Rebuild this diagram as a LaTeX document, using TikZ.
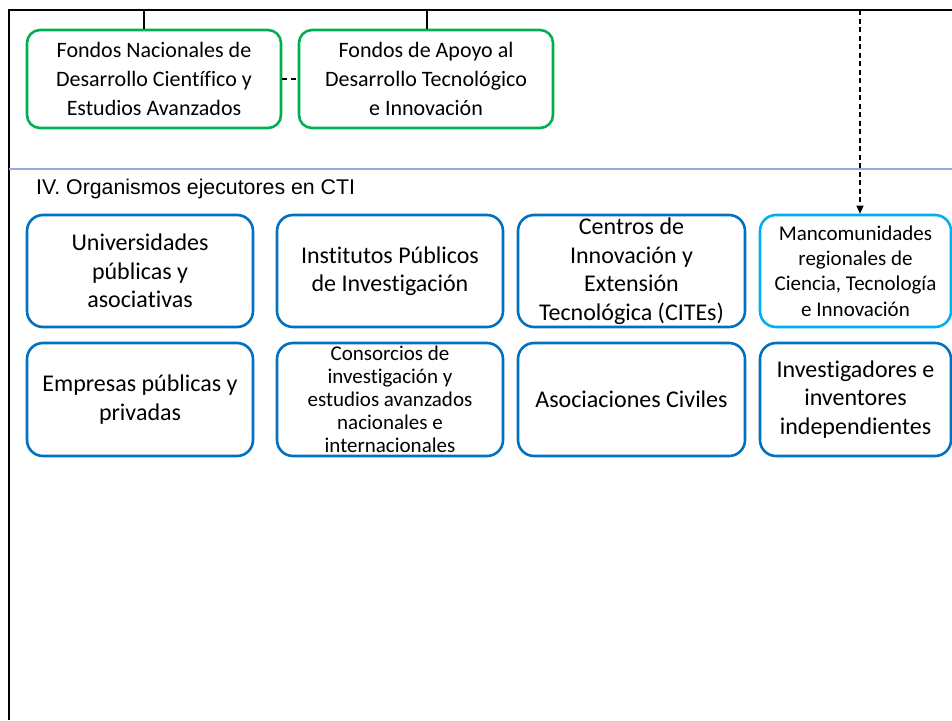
\documentclass[tikz,border=0pt]{standalone}
\usepackage{fontspec}
\setmainfont{Carlito}[RawFeature={-liga}]
\newfontfamily\arialfont{Liberation Sans}
\usetikzlibrary{arrows.meta}

\definecolor{verdeFondo}{RGB}{0,176,80}
\definecolor{azulOrg}{RGB}{0,112,192}
\definecolor{celesteOrg}{RGB}{0,176,240}
\definecolor{lineaSec}{RGB}{143,170,220}

\tikzset{
  fondo/.style={draw=verdeFondo, line width=2.6pt, rounded corners=13pt,
    minimum width=254pt, minimum height=98pt, inner sep=0pt, align=center,
    font=\fontsize{22}{29}\selectfont},
  organismo/.style={draw=azulOrg, line width=2.6pt, rounded corners=16pt,
    minimum width=226pt, minimum height=112pt, inner sep=0pt, align=center,
    font=\fontsize{24}{28.5}\selectfont},
  enlace/.style={line width=1.4pt},
  punteado/.style={line width=1.2pt, dash pattern=on 5pt off 3.5pt}
}

\begin{document}
\begin{tikzpicture}[x=1pt,y=-1pt]
\useasboundingbox (0,0) rectangle (952,720);

%Frame
\draw [line width=2pt] (9,720) -- (9,10) -- (952,10) ;
%Section line
\draw [lineaSec, line width=1.2pt] (9,169) -- (952,169) ;

%Free ends at the frame
\coordinate (arribaA) at (144,10);
\coordinate (arribaB) at (427,10);
\coordinate (arribaC) at (860,10);

%Funds
\node [fondo] (fnacional) at (154,79) {Fondos Nacionales de\\Desarrollo Científico y\\Estudios Avanzados};
\node [fondo] (fapoyo) at (426,79) {Fondos de Apoyo al\\Desarrollo Tecnológico\\e Innovación};

% Text Node
\node [anchor=west, inner sep=0pt, font=\arialfont\fontsize{21.3}{24}\selectfont] (titulo) at (36,189) {IV. Organismos ejecutores en CTI};

%Row 1
\node [organismo] (univ) at (140,271) {Universidades\\públicas y\\asociativas};
\node [organismo] (inst) at (390,271) {Institutos Públicos\\de Investigación};
\node [organismo, minimum width=227pt] (cites) at (631.5,271) {Centros de\\Innovación y\\Extensión\\Tecnológica (CITEs)};
\node [organismo, draw=celesteOrg, minimum width=191pt, font=\fontsize{21}{25.3}\selectfont] (mancom) at (855.5,271) {Mancomunidades\\regionales de\\Ciencia, Tecnología\\e Innovación};

%Row 2
\node [organismo, minimum height=113pt] (empresas) at (140,399.5) {Empresas públicas y\\privadas};
\node [organismo, minimum height=113pt, font=\fontsize{21}{23}\selectfont] (consorcios) at (390,399.5) {Consorcios de\\investigación y\\estudios avanzados\\nacionales e\\internacionales};
\node [organismo, minimum height=113pt, minimum width=227pt] (asoc) at (631.5,399.5) {Asociaciones Civiles};
\node [organismo, minimum height=113pt, minimum width=191pt] (invest) at (855.5,399.5) {Investigadores e\\inventores\\independientes};

%Connectors
\draw [enlace] (arribaA) -- (arribaA |- fnacional.north) ;
\draw [enlace] (arribaB) -- (arribaB |- fapoyo.north) ;
\draw [punteado] (fnacional) -- (fapoyo) ;
\draw [punteado, -{Triangle[length=8pt,width=7pt]}] (arribaC) -- (arribaC |- mancom.north) ;
\end{tikzpicture}
\end{document}
